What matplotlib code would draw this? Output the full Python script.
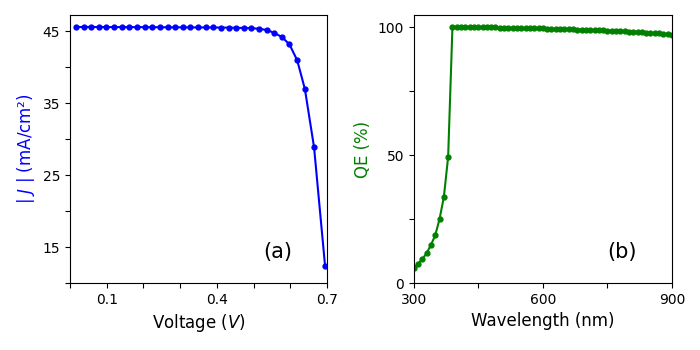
import matplotlib
matplotlib.use("Agg")
import matplotlib.pyplot as plt

# J-V curve (a)
voltage = [0.016, 0.037, 0.058, 0.078, 0.099, 0.120, 0.141, 0.162, 0.182, 0.203,
           0.224, 0.245, 0.266, 0.286, 0.307, 0.328, 0.349, 0.370, 0.390, 0.411,
           0.432, 0.453, 0.474, 0.494, 0.515, 0.536, 0.557, 0.578, 0.598, 0.619,
           0.640, 0.665, 0.695]
current = [45.62, 45.62, 45.62, 45.62, 45.61, 45.61, 45.61, 45.60, 45.60, 45.60,
           45.59, 45.59, 45.58, 45.58, 45.57, 45.57, 45.56, 45.56, 45.55, 45.54,
           45.53, 45.51, 45.48, 45.45, 45.38, 45.2, 44.8, 44.2, 43.2, 41.0,
           37.0, 28.9, 12.4]

# QE spectrum (b)
wavelength = [300, 310, 320, 330, 340, 350, 360, 370, 380, 390,
              400, 410, 420, 430, 440, 450, 460, 470, 480, 490,
              500, 510, 520, 530, 540, 550, 560, 570, 580, 590,
              600, 610, 620, 630, 640, 650, 660, 670, 680, 690,
              700, 710, 720, 730, 740, 750, 760, 770, 780, 790,
              800, 810, 820, 830, 840, 850, 860, 870, 880, 890, 900]
qe = [6.0, 7.5, 9.4, 11.7, 14.9, 18.7, 25.0, 33.6, 49.3, 100.0,
      100.0, 100.0, 100.0, 100.0, 100.0, 100.0, 100.0, 99.9, 99.9, 99.9,
      99.8, 99.7, 99.7, 99.7, 99.7, 99.6, 99.6, 99.6, 99.6, 99.6,
      99.5, 99.4, 99.3, 99.3, 99.3, 99.2, 99.2, 99.1, 99.0, 99.0,
      98.9, 98.9, 98.8, 98.8, 98.7, 98.6, 98.6, 98.5, 98.4, 98.3,
      98.2, 98.1, 98.0, 97.9, 97.8, 97.7, 97.6, 97.5, 97.4, 97.2, 97.0]

fig = plt.figure(figsize=(7, 3.5), dpi=100)
ax1 = fig.add_axes([0.1, 0.191, 0.367, 0.766])
ax2 = fig.add_axes([0.591, 0.191, 0.369, 0.766])

# (a)
ax1.plot(voltage, current, 'b.-', markersize=7, linewidth=1.5)
ax1.set_xlim(0, 0.7)
ax1.set_ylim(bottom=10)
ax1.set_xticks([0.0, 0.1, 0.2, 0.3, 0.4, 0.5, 0.6, 0.7])
ax1.set_xticklabels(['', '0.1', '', '', '0.4', '', '', '0.7'])
ax1.set_yticks([10, 15, 20, 25, 30, 35, 40, 45])
ax1.set_yticklabels(['', '15', '', '25', '', '35', '', '45'])
ax1.set_xlabel('Voltage ($V$)', fontsize=12)
ax1.set_ylabel('| $J$ | (mA/cm²)', fontsize=12, color='b')
ax1.text(0.81, 0.115, '(a)', transform=ax1.transAxes, fontsize=15,
         ha='center', va='center')

# (b)
ax2.plot(wavelength, qe, 'g.-', markersize=7, linewidth=1.5)
ax2.set_xlim(300, 900)
ax2.set_ylim(bottom=0)
ax2.set_xticks([300, 450, 600, 750, 900])
ax2.set_xticklabels(['300', '', '600', '', '900'])
ax2.set_yticks([0, 25, 50, 75, 100])
ax2.set_yticklabels(['0', '', '50', '', '100'])
ax2.set_xlabel('Wavelength (nm)', fontsize=12)
ax2.set_ylabel('QE (%)', fontsize=12, color='g')
ax2.text(0.806, 0.115, '(b)', transform=ax2.transAxes, fontsize=15,
         ha='center', va='center')

fig.savefig('out.png', dpi=100)
